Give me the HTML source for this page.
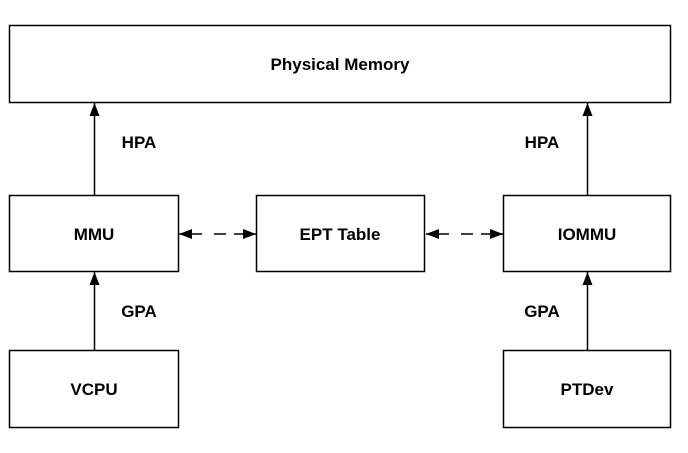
<!DOCTYPE html>
<html><head><style>body{margin:0;background:#fff}</style></head><body>
<svg width="688" height="448" xmlns="http://www.w3.org/2000/svg" font-family="Liberation Sans, sans-serif" font-weight="bold" font-size="17">
<defs><marker id="a" markerWidth="13" markerHeight="10" refX="13" refY="5" orient="auto" markerUnits="userSpaceOnUse"><path d="M0,0L13,5L0,10z" fill="#000"/></marker></defs>
<g fill="#fff" stroke="#000" stroke-width="1.5">
<rect x="9.5" y="25.5" width="661" height="77"/>
<rect x="9.5" y="195.5" width="169" height="76"/>
<rect x="256.5" y="195.5" width="168" height="76"/>
<rect x="503.5" y="195.5" width="167" height="76"/>
<rect x="9.5" y="350.5" width="169" height="77"/>
<rect x="503.5" y="350.5" width="167" height="77"/>
</g>
<g stroke="#000" stroke-width="1.5">
<line x1="94.5" y1="195" x2="94.5" y2="103" marker-end="url(#a)"/>
<line x1="587.5" y1="195" x2="587.5" y2="103" marker-end="url(#a)"/>
<line x1="94.5" y1="350" x2="94.5" y2="272" marker-end="url(#a)"/>
<line x1="587.5" y1="350" x2="587.5" y2="272" marker-end="url(#a)"/>
<line x1="202" y1="234" x2="179" y2="234" marker-end="url(#a)"/>
<line x1="234" y1="234" x2="256" y2="234" marker-end="url(#a)"/>
<line x1="214" y1="234" x2="226" y2="234"/>
<line x1="449" y1="234" x2="426" y2="234" marker-end="url(#a)"/>
<line x1="481" y1="234" x2="503" y2="234" marker-end="url(#a)"/>
<line x1="461" y1="234" x2="473" y2="234"/>
</g>
<g text-anchor="middle">
<text x="340" y="70">Physical Memory</text>
<text x="94" y="240">MMU</text>
<text x="340" y="240">EPT Table</text>
<text x="587" y="240">IOMMU</text>
<text x="94" y="395">VCPU</text>
<text x="587" y="395">PTDev</text>
<text x="139" y="148">HPA</text>
<text x="542" y="148">HPA</text>
<text x="139" y="317">GPA</text>
<text x="542" y="317">GPA</text>
</g>
</svg>
</body></html>
